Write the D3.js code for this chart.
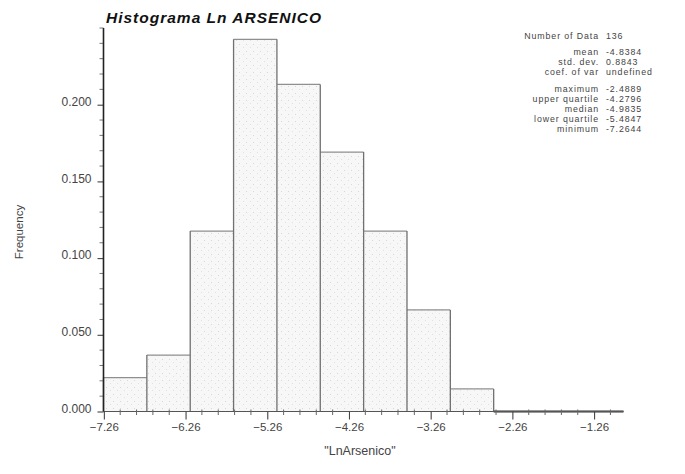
<!DOCTYPE html>
<html>
<head>
<meta charset="utf-8">
<script src="https://cdn.jsdelivr.net/npm/d3@7"></script>
<style>
  html, body { margin: 0; padding: 0; background: #fff; }
  svg { display: block; font-family: "Liberation Sans", Arial, sans-serif; }
</style>
</head>
<body>
<svg id="chart" width="685" height="474"></svg>
<script>
// Histogram of ln(arsenic): 9 classes between the minimum and maximum
const binEdges = [-7.2644, -6.7338, -6.2031, -5.6725, -5.1419, -4.6113, -4.0806, -3.5500, -3.0194, -2.4889];
const frequencies = [0.0221, 0.0368, 0.1176, 0.2426, 0.2132, 0.1691, 0.1176, 0.0662, 0.0147];

const xTicks = [-7.26, -6.26, -5.26, -4.26, -3.26, -2.26, -1.26];
const yTicks = [0.000, 0.050, 0.100, 0.150, 0.200];

const statLabels = ["Number of Data", "mean", "std. dev.", "coef. of var", "maximum", "upper quartile", "median", "lower quartile", "minimum"];
const statValues = ["136", "-4.8384", "0.8843", "undefined", "-2.4889", "-4.2796", "-4.9835", "-5.4847", "-7.2644"];

const svg = d3.select("#chart");

const plot = { left: 103.5, right: 623.5, top: 28, bottom: 411.5 };

const x = d3.scaleLinear().domain([-7.2644, -0.9]).range([plot.left, plot.right]);
const y = d3.scaleLinear().domain([0, 0.25]).range([plot.bottom, plot.top]);

// stippled fill for the bars
const defs = svg.append("defs");
const pat = defs.append("pattern")
  .attr("id", "stipple").attr("patternUnits", "userSpaceOnUse")
  .attr("width", 7).attr("height", 7);
pat.append("rect").attr("width", 7).attr("height", 7).attr("fill", "#f7f7f7");
pat.append("rect").attr("x", 1).attr("y", 2).attr("width", 1).attr("height", 1).attr("fill", "#d8d8d8");
pat.append("rect").attr("x", 5).attr("y", 5).attr("width", 1).attr("height", 1).attr("fill", "#e0e0e0");

const bins = frequencies.map((f, i) => ({ x0: binEdges[i], x1: binEdges[i + 1], f }));

const bars = svg.append("g");
bars.selectAll("rect").data(bins).join("rect")
  .attr("x", d => x(d.x0))
  .attr("y", d => y(d.f))
  .attr("width", d => x(d.x1) - x(d.x0))
  .attr("height", d => y(0) - y(d.f))
  .attr("fill", "url(#stipple)");

// bar tops (light) and sides (darker)
bars.selectAll("line.top").data(bins).join("line")
  .attr("class", "top")
  .attr("x1", d => x(d.x0)).attr("x2", d => x(d.x1))
  .attr("y1", d => y(d.f)).attr("y2", d => y(d.f))
  .attr("stroke", "#8f8f8f").attr("stroke-width", 1.2);

const sides = bins.map(d => d.x0).concat([binEdges[binEdges.length - 1]]);
bars.selectAll("line.side").data(sides).join("line")
  .attr("class", "side")
  .attr("x1", d => x(d)).attr("x2", d => x(d))
  .attr("y1", (d, i) => y(Math.max(frequencies[i - 1] || 0, frequencies[i] || 0)))
  .attr("y2", y(0))
  .attr("stroke", "#707070").attr("stroke-width", 1.3);

// zero-height run of the histogram past the last class
svg.append("line")
  .attr("x1", x(binEdges[binEdges.length - 1])).attr("x2", x.range()[1])
  .attr("y1", y(0)).attr("y2", y(0))
  .attr("stroke", "#333").attr("stroke-width", 2);

// x axis: majors every unit, minors every 0.2
const xMinor = d3.range(-7.26, -0.9, 0.2).filter(v => !xTicks.some(t => Math.abs(t - v) < 1e-6));
const xAxisG = svg.append("g").attr("transform", `translate(0,${plot.bottom})`);
xAxisG.append("line").attr("x1", x.range()[0]).attr("x2", x.range()[1])
  .attr("stroke", "#555").attr("stroke-width", 1);
xAxisG.selectAll("line.minor").data(xMinor).join("line")
  .attr("class", "minor")
  .attr("x1", d => x(d)).attr("x2", d => x(d)).attr("y1", -2).attr("y2", 3.5)
  .attr("stroke", "#666").attr("stroke-width", 1);
const xAx = d3.axisBottom(x).tickValues(xTicks).tickFormat(d3.format(".2f")).tickSize(8).tickPadding(3);
const xg = xAxisG.append("g").call(xAx);
xg.select(".domain").remove();
xg.selectAll(".tick line").attr("stroke", "#444").attr("stroke-width", 1.1);
xg.selectAll(".tick text").attr("fill", "#444").style("font-size", "11.5px")
  .style("font-family", "'Liberation Sans', Arial, sans-serif");

// y axis: majors every 0.05, minors every 0.01
const yMinor = d3.range(0, 0.251, 0.01).filter(v => !yTicks.some(t => Math.abs(t - v) < 1e-6));
const yAxisG = svg.append("g").attr("transform", `translate(${plot.left},0)`);
yAxisG.selectAll("line.minor").data(yMinor).join("line")
  .attr("class", "minor")
  .attr("x1", -4).attr("x2", 0).attr("y1", d => y(d)).attr("y2", d => y(d))
  .attr("stroke", "#777").attr("stroke-width", 1);
const yAx = d3.axisLeft(y).tickValues(yTicks).tickFormat(d3.format(".3f")).tickSize(6).tickPadding(6);
const yg = yAxisG.append("g").call(yAx);
yg.select(".domain").remove();
yg.selectAll(".tick line").attr("stroke", "#444").attr("stroke-width", 1.1);
yg.selectAll(".tick text").attr("fill", "#444").attr("dy", "0.05em").style("font-size", "12px")
  .style("font-family", "'Liberation Sans', Arial, sans-serif");
yAxisG.append("line").attr("y1", y.range()[1]).attr("y2", y.range()[0])
  .attr("stroke", "#222").attr("stroke-width", 1.6);

// title
svg.append("text")
  .attr("x", 106).attr("y", 23)
  .style("font-size", "15.5px").style("font-weight", "bold").style("font-style", "italic")
  .style("letter-spacing", "1px")
  .attr("fill", "#111")
  .text("Histograma Ln ARSENICO");

// axis titles
svg.append("text")
  .attr("transform", "translate(23,232) rotate(-90)")
  .attr("text-anchor", "middle")
  .style("font-size", "11.5px").attr("fill", "#444")
  .text("Frequency");
svg.append("text")
  .attr("x", 360).attr("y", 455)
  .attr("text-anchor", "middle")
  .style("font-size", "12.5px").attr("fill", "#444")
  .text("\"LnArsenico\"");

// summary statistics block
const statY = i => (i === 0 ? 38.5 : i < 4 ? 55 + (i - 1) * 10 : 91.5 + (i - 4) * 10);
const stats = svg.append("g").style("font-size", "8.8px").style("letter-spacing", "0.9px").attr("fill", "#444");
stats.selectAll("text.lab").data(statLabels).join("text")
  .attr("class", "lab")
  .attr("x", 599).attr("y", (d, i) => statY(i))
  .attr("text-anchor", "end")
  .text(d => d);
stats.selectAll("text.val").data(statValues).join("text")
  .attr("class", "val")
  .attr("x", 606).attr("y", (d, i) => statY(i))
  .text(d => d);
</script>
</body>
</html>
